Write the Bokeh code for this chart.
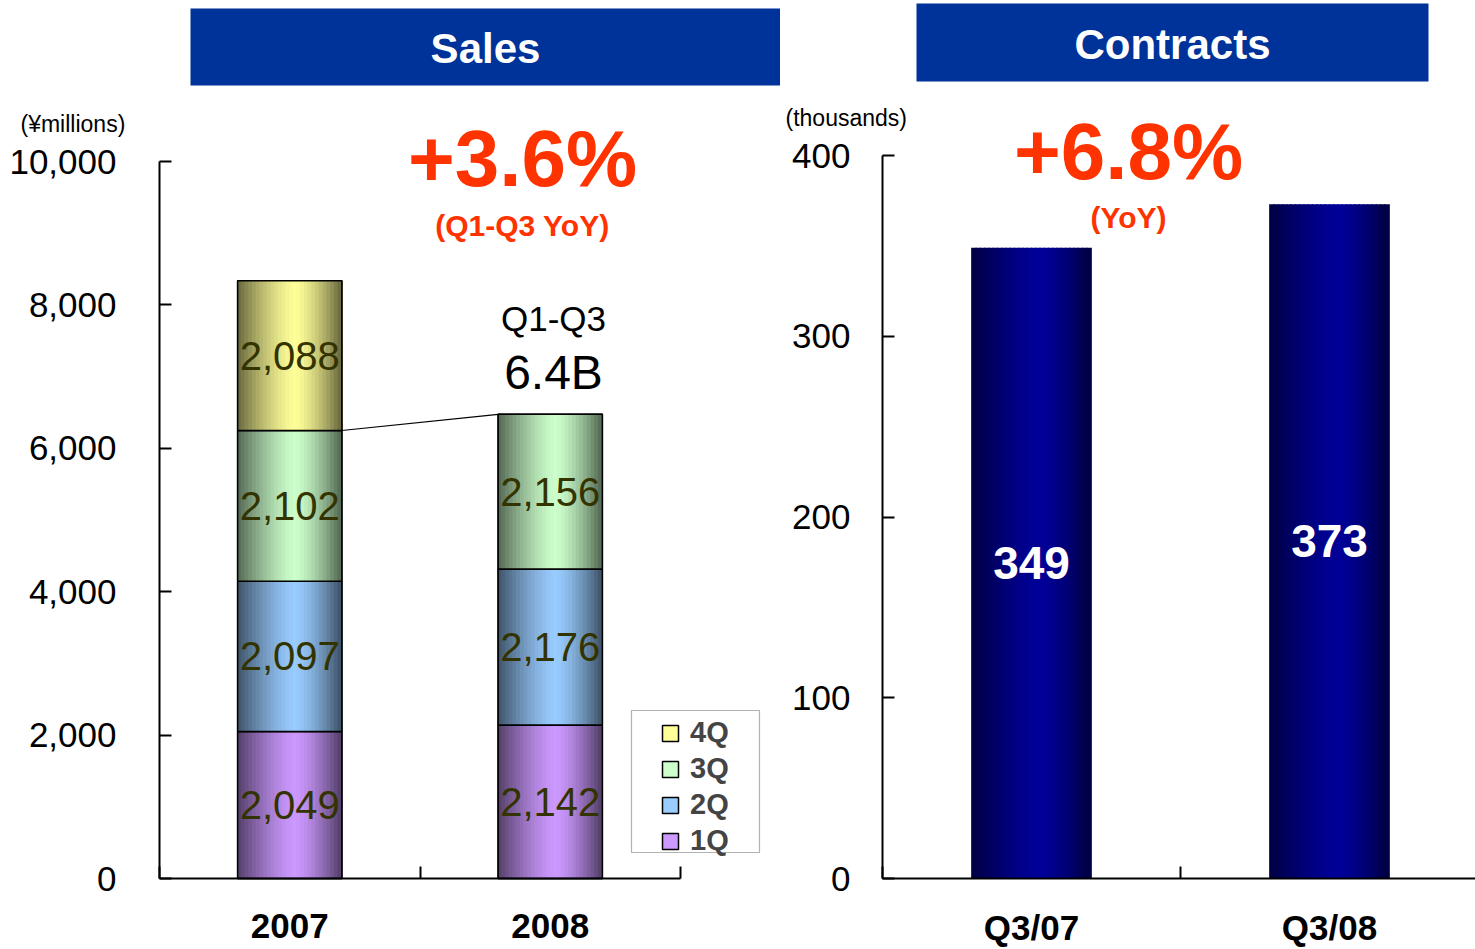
import numpy as np
from bokeh.plotting import figure
from bokeh.models import (Range1d, FixedTicker, Label, BoxAnnotation, Legend,
                          LegendItem)
from bokeh.layouts import row
from bokeh.embed import file_html
from bokeh.resources import INLINE
from bokeh.core.properties import value

# ---------------- data ----------------
years = ["2007", "2008"]
sales_1q = [2049, 2142]
sales_2q = [2097, 2176]
sales_3q = [2102, 2156]
sales_4q = [2088, None]
quarter_names = ["1Q", "2Q", "3Q", "4Q"]
quarter_colors = ["#CC99FF", "#99CCFF", "#CCFFCC", "#FFFF99"]
sales_ticks = [0, 2000, 4000, 6000, 8000, 10000]
sales_tick_labels = ["0", "2,000", "4,000", "6,000", "8,000", "10,000"]
sales_growth = "+3.6%"
sales_growth_note = "(Q1-Q3 YoY)"
q1q3_total = "6.4B"

contract_periods = ["Q3/07", "Q3/08"]
contracts = [349, 373]
contract_ticks = [0, 100, 200, 300, 400]
contract_tick_labels = ["0", "100", "200", "300", "400"]
contract_growth = "+6.8%"
contract_growth_note = "(YoY)"
contract_color = "#000099"

FONT = "Liberation Sans"
RED = "#FF3300"
TITLE_BLUE = "#003399"
H = 949
W1 = 780
W2 = 1475 - W1

# ---------------- helpers ----------------
def shade(hex_color, f):
    r, g, b = int(hex_color[1:3], 16), int(hex_color[3:5], 16), int(hex_color[5:7], 16)
    return "#%02x%02x%02x" % (int(r * f), int(g * f), int(b * f))


N_STRIPS = 28


def gradient_bars(p, xs, bottoms, tops, width, color, peak=0.56, edge=0.40):
    sx, sb, st, sc = [], [], [], []
    for x, b, t in zip(xs, bottoms, tops):
        for i in range(N_STRIPS):
            tc = (i + 0.5) / N_STRIPS
            d = (peak - tc) / peak if tc < peak else (tc - peak) / (1 - peak)
            f = edge + (1 - edge) * (1 - d ** 1.4)
            sx.append(x - width / 2 + tc * width)
            sb.append(b)
            st.append(t)
            sc.append(shade(color, f))
    p.vbar(x=sx, width=width / N_STRIPS * 1.35, bottom=sb, top=st,
           fill_color=sc, line_color=None)


def make_fig(width, sx, sy, left_px):
    p = figure(width=width, height=H, output_backend="svg", toolbar_location=None,
               x_range=Range1d(sx(left_px), sx(left_px + width)),
               y_range=Range1d(sy(H), sy(0)),
               min_border=0, background_fill_color="white",
               border_fill_color="white")
    p.xgrid.visible = False
    p.ygrid.visible = False
    p.outline_line_color = None
    for ax in (p.xaxis[0], p.yaxis[0]):
        ax.fixed_location = 0
        ax.axis_line_color = "black"
        ax.axis_line_width = 2
        ax.major_tick_line_width = 2
        ax.minor_tick_line_width = 2
        ax.major_tick_line_color = "black"
        ax.minor_tick_line_color = "black"
        ax.major_label_text_font = FONT
        ax.major_label_text_color = "black"
    return p


def txt(p, x, y, text, size, color="black", bold=False, align="center"):
    p.add_layout(Label(x=x, y=y, text=text, text_align=align, text_baseline="middle",
                       text_color=color, text_font=FONT, text_font_size=size,
                       text_font_style="bold" if bold else "normal"))


# ================= LEFT: Sales =================
ax1_x0, ax_y0 = 159, 878                # screen px of axes origin
px_per_x1 = 260.5
px_per_y1 = 717.0 / 10000
sx1 = lambda px: (px - ax1_x0) / px_per_x1
sy1 = lambda py: (ax_y0 - py) / px_per_y1

p1 = make_fig(W1, sx1, sy1, 0)

xpos = [i + 0.5 for i in range(len(years))]
bar_w = 0.40
series = [sales_1q, sales_2q, sales_3q, sales_4q]
cum = [0.0] * len(years)
legend_renderers = {}
seg_labels_x, seg_labels_y, seg_labels_t = [], [], []
tops_3q = None
for qi, (vals, col) in enumerate(zip(series, quarter_colors)):
    xs, bs, ts = [], [], []
    for j, v in enumerate(vals):
        if v is None:
            continue
        xs.append(xpos[j]); bs.append(cum[j]); ts.append(cum[j] + v)
        seg_labels_x.append(xpos[j]); seg_labels_y.append(cum[j] + v / 2)
        seg_labels_t.append(f"{v:,}")
    base = p1.vbar(x=xs, width=bar_w, bottom=bs, top=ts, fill_color=col,
                   line_color="black", line_width=1.5)
    legend_renderers[quarter_names[qi]] = base
    gradient_bars(p1, xs, bs, ts, bar_w, col)
    p1.vbar(x=xs, width=bar_w, bottom=bs, top=ts, fill_color=None,
            line_color="black", line_width=1.5)
    for j, v in enumerate(vals):
        if v is not None:
            cum[j] += v
    if qi == 2:
        tops_3q = list(cum)

# connector line between Q1-Q3 totals
p1.line(x=[xpos[0] + bar_w / 2, xpos[1] - bar_w / 2], y=tops_3q,
        line_color="black", line_width=1.2)

p1.text(x=seg_labels_x, y=seg_labels_y, text=seg_labels_t, text_align="center",
        text_baseline="middle", text_color="#333300", text_font=value(FONT),
        text_font_size="40px")

# axes
p1.yaxis.bounds = (0, 10000)
p1.yaxis.ticker = FixedTicker(ticks=sales_ticks)
p1.yaxis.major_label_overrides = {t: l for t, l in zip(sales_ticks, sales_tick_labels)}
p1.yaxis.major_tick_in = 12
p1.yaxis.major_tick_out = 0
p1.yaxis.minor_tick_line_color = None
p1.yaxis.major_label_standoff = 43
p1.yaxis.major_label_text_font_size = "35px"

p1.xaxis.bounds = (0, len(years))
p1.xaxis.ticker = FixedTicker(ticks=xpos, minor_ticks=list(range(len(years) + 1)))
p1.xaxis.major_label_overrides = {x: y for x, y in zip(xpos, years)}
p1.xaxis.major_tick_line_color = None
p1.xaxis.minor_tick_in = 12
p1.xaxis.minor_tick_out = 0
p1.xaxis.major_label_standoff = 29
p1.xaxis.major_label_text_font_size = "35px"
p1.xaxis.major_label_text_font_style = "bold"

# title box
p1.add_layout(BoxAnnotation(left=sx1(190), right=sx1(W1), top=sy1(8), bottom=sy1(85),
                            fill_color=TITLE_BLUE, fill_alpha=1.0, line_color=None))
txt(p1, sx1(485), sy1(48), "Sales", "42px", color="white", bold=True)
txt(p1, sx1(20), sy1(123), "(¥millions)", "23px", align="left")
txt(p1, sx1(522), sy1(158), sales_growth, "80px", color=RED, bold=True)
txt(p1, sx1(522), sy1(225), sales_growth_note, "30px", color=RED, bold=True)
txt(p1, sx1(553), sy1(318), "Q1-Q3", "35px")
txt(p1, sx1(553), sy1(372), q1q3_total, "48px")

# legend
p1.add_layout(BoxAnnotation(left=sx1(631), right=sx1(759), top=sy1(710), bottom=sy1(852),
                            fill_color="white", fill_alpha=1.0, line_color="black",
                            line_width=1.2))
legend = Legend(items=[LegendItem(label=q, renderers=[legend_renderers[q]])
                       for q in reversed(quarter_names)],
                location=(660, H - 857), background_fill_alpha=0,
                border_line_color=None, padding=2, margin=0, spacing=3,
                glyph_width=20, glyph_height=20, label_height=30,
                label_standoff=10, label_text_font=FONT, label_text_font_size="29px",
                label_text_font_style="bold")
p1.add_layout(legend)

# ================= RIGHT: Contracts =================
ax2_x0 = 882
px_per_x2 = 298.0
px_per_y2 = 723.0 / 400
sx2 = lambda px: (px - ax2_x0) / px_per_x2
sy2 = lambda py: (ax_y0 - py) / px_per_y2

p2 = make_fig(W2, sx2, sy2, W1)

xpos2 = [i + 0.5 for i in range(len(contract_periods))]
bar_w2 = 0.40
gradient_bars(p2, xpos2, [0] * len(contracts), contracts, bar_w2, contract_color,
              peak=0.58, edge=0.42)
p2.text(x=xpos2, y=[c / 2 for c in contracts], text=[str(c) for c in contracts],
        text_align="center", text_baseline="middle", text_color="white",
        text_font=value(FONT), text_font_size="46px", text_font_style="bold")

p2.yaxis.bounds = (0, 400)
p2.yaxis.ticker = FixedTicker(ticks=contract_ticks)
p2.yaxis.major_label_overrides = {t: l for t, l in zip(contract_ticks, contract_tick_labels)}
p2.yaxis.major_tick_in = 12
p2.yaxis.major_tick_out = 0
p2.yaxis.minor_tick_line_color = None
p2.yaxis.major_label_standoff = 32
p2.yaxis.major_label_text_font_size = "35px"

p2.xaxis.bounds = (0, sx2(1475))
p2.xaxis.ticker = FixedTicker(ticks=xpos2, minor_ticks=list(range(len(contract_periods) + 1)))
p2.xaxis.major_label_overrides = {x: c for x, c in zip(xpos2, contract_periods)}
p2.xaxis.major_tick_line_color = None
p2.xaxis.minor_tick_in = 12
p2.xaxis.minor_tick_out = 0
p2.xaxis.major_label_standoff = 23
p2.xaxis.major_label_text_font_size = "35px"
p2.xaxis.major_label_text_font_style = "bold"

p2.add_layout(BoxAnnotation(left=sx2(916), right=sx2(1428), top=sy2(3), bottom=sy2(81),
                            fill_color=TITLE_BLUE, fill_alpha=1.0, line_color=None))
p2.add_layout(BoxAnnotation(left=sx2(W1), right=sx2(780), top=sy2(8), bottom=sy2(85),
                            fill_color=TITLE_BLUE, fill_alpha=1.0, line_color=None))
txt(p2, sx2(1172), sy2(44), "Contracts", "42px", color="white", bold=True)
txt(p2, sx2(785), sy2(117), "(thousands)", "23px", align="left")
txt(p2, sx2(1128), sy2(151), contract_growth, "80px", color=RED, bold=True)
txt(p2, sx2(1128), sy2(217), contract_growth_note, "30px", color=RED, bold=True)

layout = row(p1, p2, spacing=0)
open("out.html", "w").write(file_html(layout, INLINE))
